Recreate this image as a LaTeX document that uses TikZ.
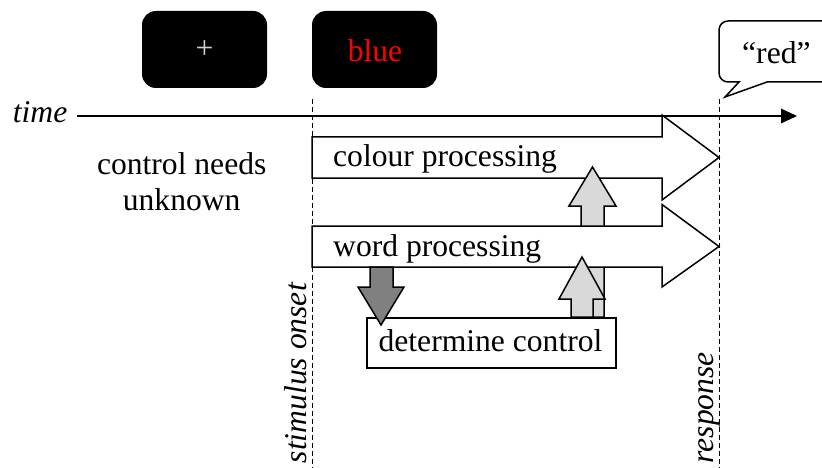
\documentclass[tikz,border=0pt]{standalone}
\usepackage{fontspec}
\setmainfont{Liberation Serif}
\begin{document}
\begin{tikzpicture}[x=1pt,y=-1pt,
  txt/.style={inner sep=0pt,font=\fontsize{31.6}{38}\selectfont},
  itxt/.style={txt,font=\fontsize{31.6}{38}\selectfont\itshape},
  screen/.style={fill=black,rounded corners=14pt},
  blockarrow/.style={draw=black,line width=1.5pt,fill=white,line join=miter},
  lightarrow/.style={draw=black,line width=1.5pt,fill=black!15,line join=miter},
  darkarrow/.style={draw=black,line width=1.5pt,fill=black!50,line join=miter},
  marker/.style={draw=black,line width=1pt,dash pattern=on 5pt off 3pt},
  axis/.style={draw=black,line width=2pt}]
\useasboundingbox (0,0) rectangle (822,468);

% stimulus screens
\fill[screen] (142,11) rectangle (267,88);
\fill[screen] (312,11) rectangle (437,88);
\node[txt,text=black!18] (fix) at (204.5,50) {+};
\node[txt,text=red,anchor=base] (stim) at (375,61.7) {blue};

% spoken response bubble
\draw[line width=1.5pt,fill=white] (739,82) [rounded corners=9pt] -- (719,82) -- (719,21) -- (835,21) -- (835,82) [sharp corners] -- (767,82) -- (725,97) -- cycle;
\node[txt,anchor=base west] (resp) at (742,63.3) {“red”};

% event markers
\coordinate (onsetTop) at (312,99);
\coordinate (onsetBot) at (312,468);
\coordinate (respTop) at (719,99);
\coordinate (respBot) at (719,468);
\draw[marker] (onsetTop) -- (onsetBot);
\draw[marker] (respTop) -- (respBot);
\node[itxt,rotate=90,anchor=base east] (onset) at (306,283) {stimulus onset};
\node[itxt,rotate=90,anchor=base east] (response) at (713,352) {response};

% time axis
\node[itxt,anchor=base west] (time) at (12.7,122.3) {time};
\coordinate (axisEnd) at (782,116);
\draw[axis] (77,116) -- (axisEnd);
\fill (781,108.5) -- (797,116) -- (781,123.5) -- cycle;

% colour processing stream
\draw[blockarrow] (312,137) -- (662,137) -- (662,115) -- (719,157.5) -- (662,200) -- (662,178) -- (312,178) -- cycle;
\node[txt,anchor=base west] (colour) at (333,166.7) {colour processing};

% control feeding colour processing
\draw[lightarrow] (581,317) -- (581,206) -- (569,206) -- (592.5,167) -- (616,206) -- (604,206) -- (604,317) -- cycle;

% word processing stream
\draw[blockarrow] (312,226) -- (662,226) -- (662,204.5) -- (719,246.5) -- (662,287) -- (662,267) -- (312,267) -- cycle;
\node[txt,anchor=base west] (word) at (333,256.7) {word processing};

% control feeding word processing
\draw[lightarrow] (571,317) -- (571,299) -- (559,299) -- (582,257) -- (605,299) -- (593,299) -- (593,317) -- cycle;

% control determination
\node[txt,draw=black,line width=1.5pt,fill=white,minimum width=249pt,minimum height=50pt,anchor=north west,inner sep=0pt] (control) at (366,317) {};
\node[txt,anchor=base] (controlText) at (490.5,351.7) {determine control};

% word processing informs control
\draw[darkarrow] (370,267) -- (393,267) -- (393,287) -- (404,287) -- (381,325) -- (358,287) -- (370,287) -- cycle;

% left-hand annotation
\node[txt,anchor=base] (needs1) at (181.7,175) {control needs};
\node[txt,anchor=base] (needs2) at (181.7,210.7) {unknown};
\end{tikzpicture}
\end{document}
